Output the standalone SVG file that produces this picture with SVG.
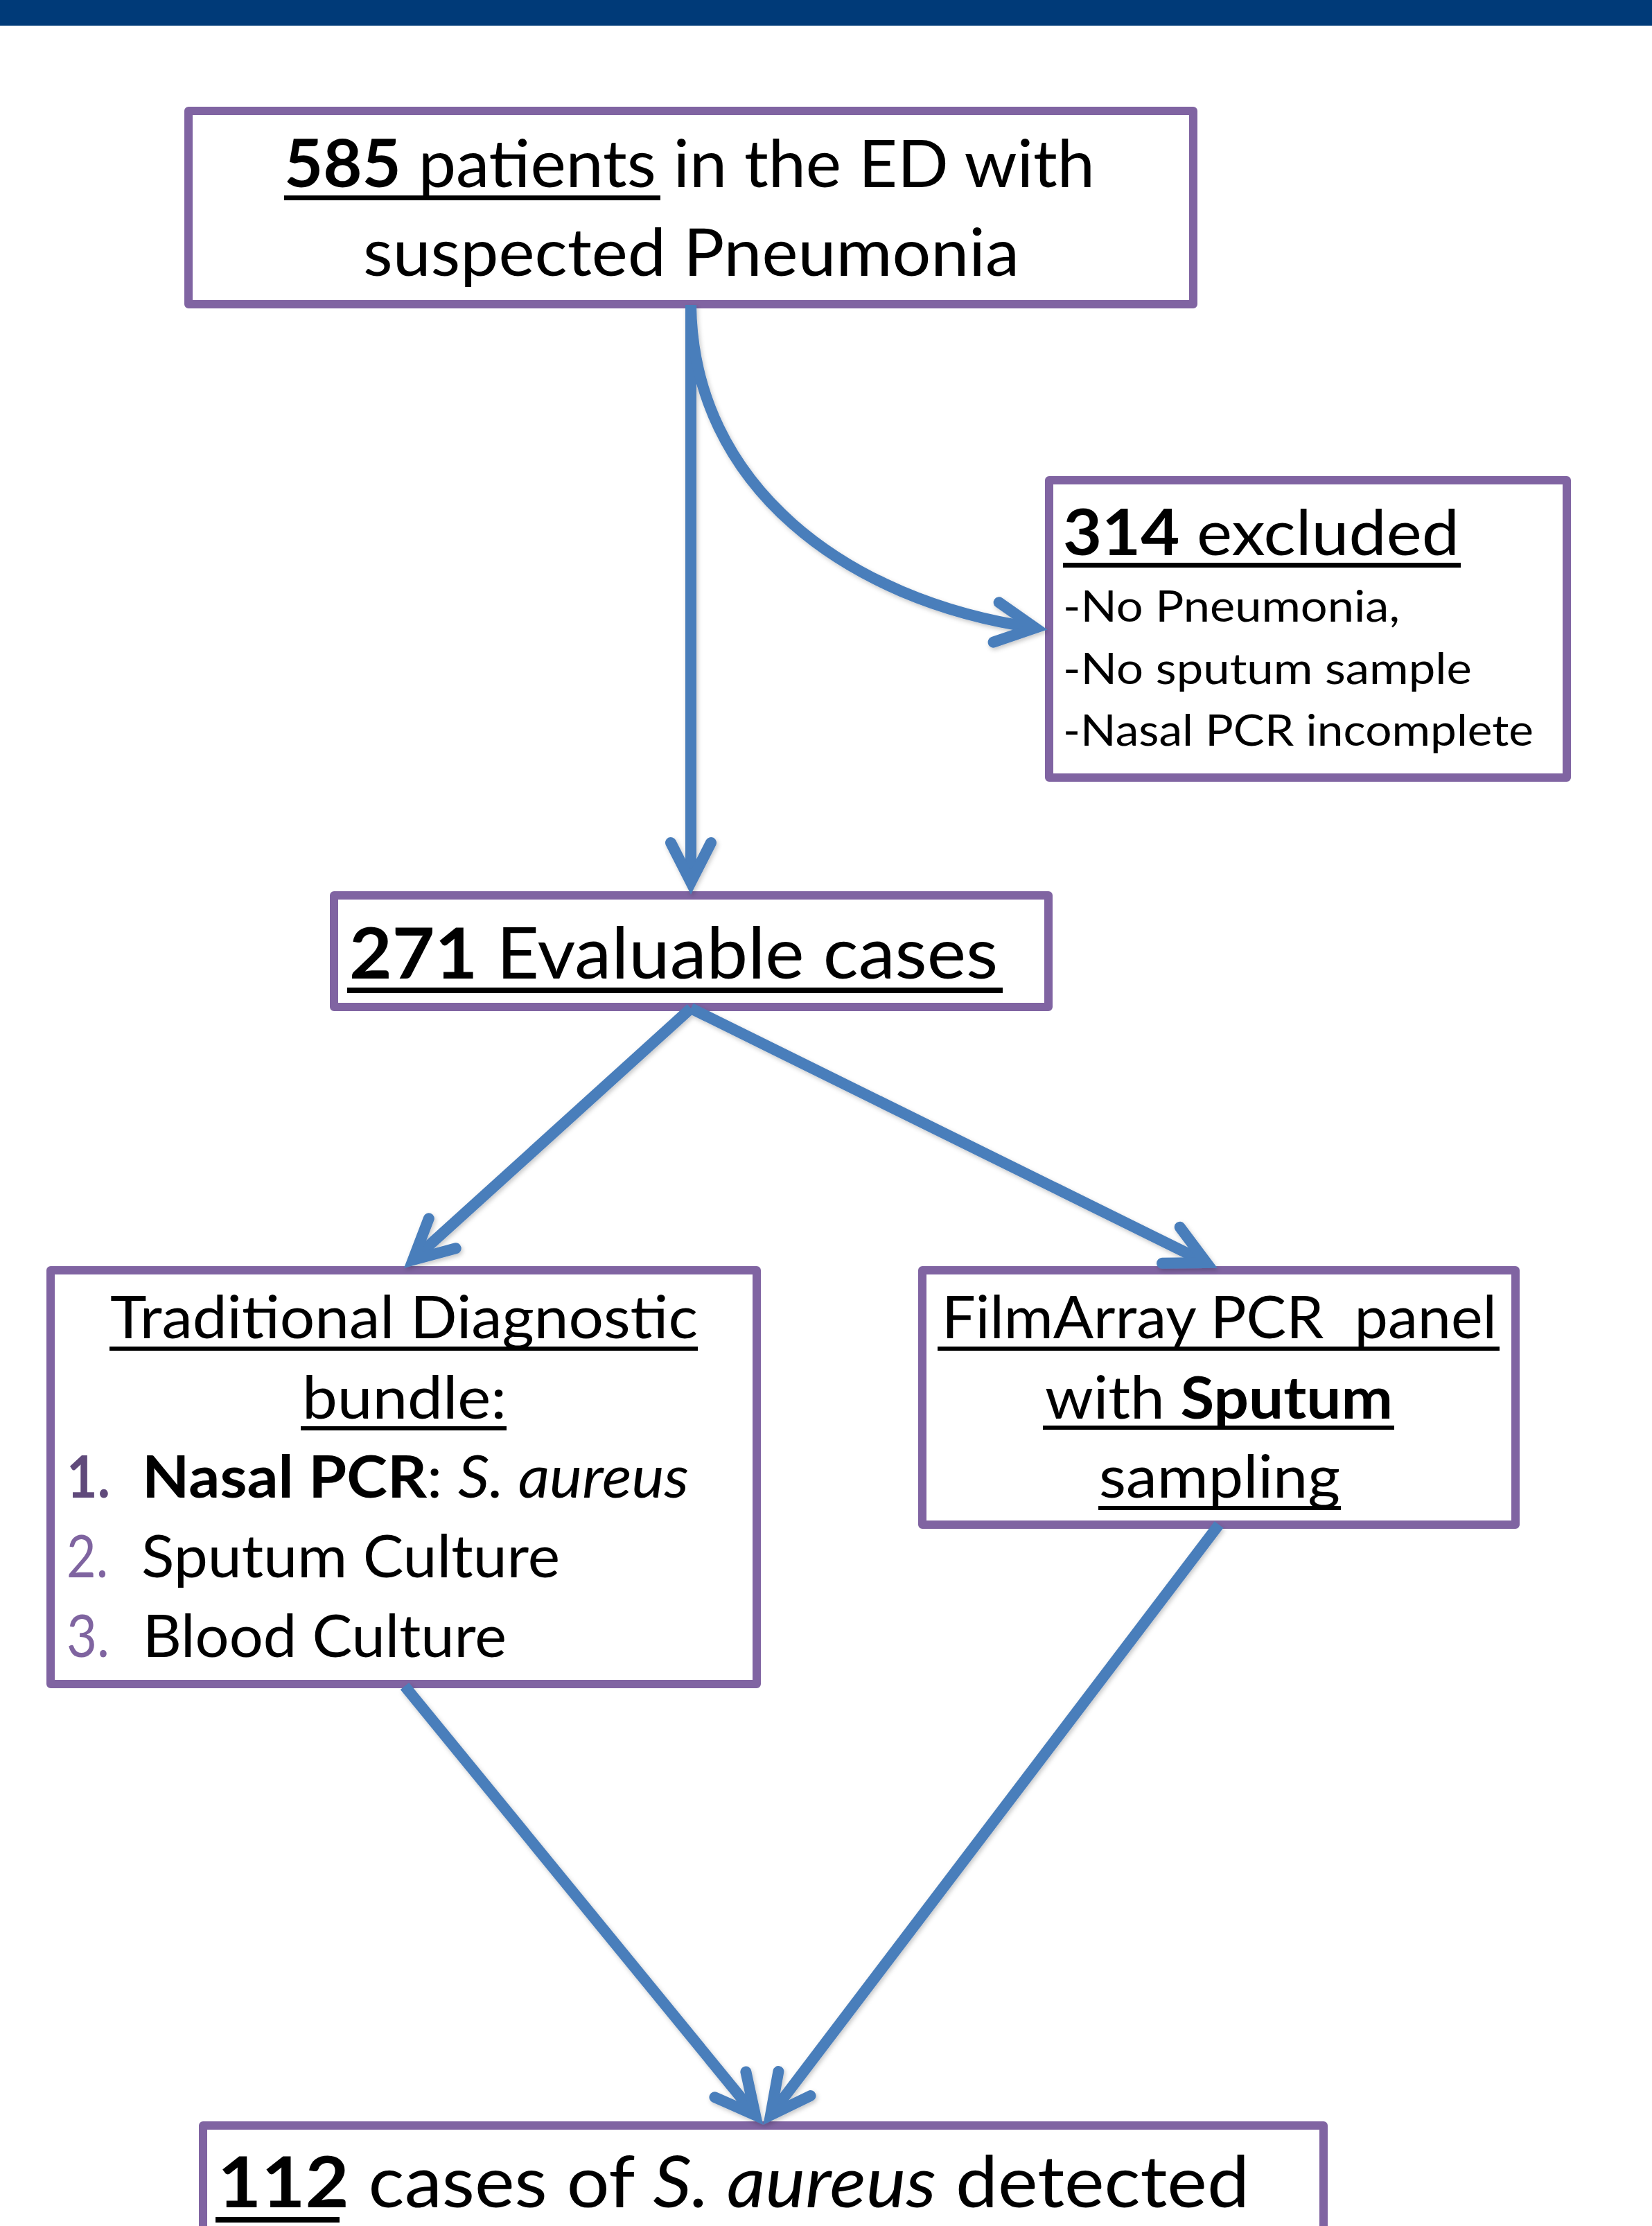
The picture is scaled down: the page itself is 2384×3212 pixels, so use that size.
<svg xmlns="http://www.w3.org/2000/svg" width="2384" height="3212" viewBox="0 0 2384 3212">
<style>
.box{fill:#fff;stroke:#8064A2;stroke-width:12;stroke-linejoin:round}
.t{font-family:Lato,"Open Sans","Liberation Sans",sans-serif;fill:#000}
.b{font-weight:700}
.i{font-style:italic}
.ul{fill:#000}
.conn{fill:none;stroke:#4A7EBB;stroke-width:16}
</style>
<defs>
<filter id="sh" x="-20%" y="-20%" width="140%" height="140%">
<feDropShadow dx="2" dy="3" stdDeviation="3" flood-color="#000" flood-opacity="0.22"/>
</filter>
<marker id="arr" markerUnits="userSpaceOnUse" viewBox="-100 -100 200 200" markerWidth="200" markerHeight="200" refX="0" refY="0" orient="auto">
<path d="M-57,-29 L0,0 L-57,29" fill="none" stroke="#4A7EBB" stroke-width="16" stroke-linecap="round" stroke-linejoin="miter"/>
</marker>
</defs>
<rect x="0" y="0" width="2384" height="37" fill="#003A78"/>

<g id="node-585">
<rect class="box" x="272" y="160" width="1450" height="279"/>
<text class="t" font-size="95" x="410" y="270" textLength="1170" lengthAdjust="spacingAndGlyphs"><tspan class="b">585</tspan> patients in the ED with</text>
<text class="t" font-size="95" x="524" y="398" textLength="947" lengthAdjust="spacingAndGlyphs">suspected Pneumonia</text>
<rect class="ul" x="410" y="282" width="543" height="7"/>
</g>

<g id="node-excluded">
<rect class="box" x="1514" y="693" width="747" height="429"/>
<text class="t" font-size="92" x="1534" y="801" textLength="572" lengthAdjust="spacingAndGlyphs"><tspan class="b">314</tspan> excluded</text>
<rect class="ul" x="1534" y="812" width="574" height="7"/>
<text class="t" font-size="61" x="1534" y="897" textLength="486" lengthAdjust="spacingAndGlyphs">-No Pneumonia,</text>
<text class="t" font-size="61" x="1534" y="987" textLength="590" lengthAdjust="spacingAndGlyphs">-No sputum sample</text>
<text class="t" font-size="61" x="1534" y="1076" textLength="679" lengthAdjust="spacingAndGlyphs">-Nasal PCR incomplete</text>
</g>

<g id="node-evaluable">
<rect class="box" x="482" y="1292" width="1031" height="161"/>
<text class="t" font-size="102" x="504" y="1412" textLength="936" lengthAdjust="spacingAndGlyphs"><tspan class="b">271</tspan> Evaluable cases</text>
<rect class="ul" x="501" y="1425" width="946" height="8"/>
</g>

<g id="node-traditional">
<rect class="box" x="73" y="1833" width="1019" height="597"/>
<text class="t" font-size="85" x="159" y="1931" textLength="848" lengthAdjust="spacingAndGlyphs">Traditional Diagnostic</text>
<rect class="ul" x="158" y="1943" width="849" height="6"/>
<text class="t" font-size="85" x="436" y="2047" textLength="295" lengthAdjust="spacingAndGlyphs">bundle:</text>
<rect class="ul" x="434" y="2058" width="297" height="6"/>
<text class="t b" font-size="85" x="96" y="2161" textLength="63" lengthAdjust="spacingAndGlyphs" fill="#604A7B" style="fill:#604A7B">1.</text>
<text class="t" font-size="85" x="205" y="2161" textLength="789" lengthAdjust="spacingAndGlyphs"><tspan class="b">Nasal PCR</tspan>: <tspan class="i">S. aureus</tspan></text>
<text class="t" font-size="85" x="96" y="2276" textLength="60" lengthAdjust="spacingAndGlyphs" style="fill:#7F64A0">2.</text>
<text class="t" font-size="85" x="204" y="2276" textLength="604" lengthAdjust="spacingAndGlyphs">Sputum Culture</text>
<text class="t" font-size="85" x="96" y="2391" textLength="62" lengthAdjust="spacingAndGlyphs" style="fill:#7F64A0">3.</text>
<text class="t" font-size="85" x="206" y="2391" textLength="525" lengthAdjust="spacingAndGlyphs">Blood Culture</text>
</g>

<g id="node-filmarray">
<rect class="box" x="1331" y="1833" width="856" height="367"/>
<text class="t" font-size="85" x="1359" y="1931" textLength="801" lengthAdjust="spacingAndGlyphs" xml:space="preserve">FilmArray PCR  panel</text>
<rect class="ul" x="1353" y="1943" width="811" height="6"/>
<text class="t" font-size="85" x="1508" y="2047" textLength="502" lengthAdjust="spacingAndGlyphs">with <tspan class="b">Sputum</tspan></text>
<rect class="ul" x="1505" y="2057" width="507" height="6"/>
<text class="t" font-size="85" x="1586" y="2161" textLength="348" lengthAdjust="spacingAndGlyphs">sampling</text>
<rect class="ul" x="1585" y="2173" width="350" height="6"/>
</g>

<g id="node-detected">
<rect class="box" x="293" y="3067" width="1617" height="200"/>
<text class="t" font-size="102" x="314" y="3185" textLength="1489" lengthAdjust="spacingAndGlyphs"><tspan class="b">112</tspan> cases of <tspan class="i">S. aureus</tspan> detected</text>
<rect class="ul" x="311" y="3199" width="179" height="8"/>
</g>

<g id="connectors" filter="url(#sh)">
<path class="conn" d="M997,440 L997,1273" marker-end="url(#arr)"/>
<path class="conn" d="M997,440 C1000,700 1220,867 1494,906" marker-end="url(#arr)"/>
<path class="conn" d="M997,1455 L596,1818" marker-end="url(#arr)"/>
<path class="conn" d="M997,1455 L1741,1822" marker-end="url(#arr)"/>
<path class="conn" d="M584,2433 L1090,3052" marker-end="url(#arr)"/>
<path class="conn" d="M1759,2200 L1112,3052" marker-end="url(#arr)"/>
</g>
</svg>
